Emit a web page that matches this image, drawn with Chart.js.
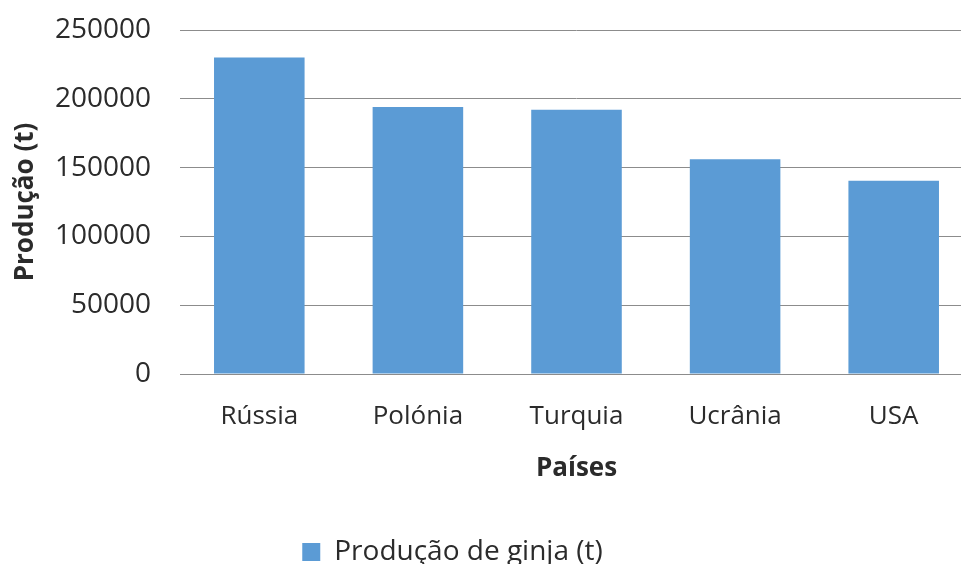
<!DOCTYPE html>
<html>
<head>
<meta charset="utf-8">
<script src="https://cdn.jsdelivr.net/npm/chart.js@4/dist/chart.umd.min.js"></script>
<style>
    html, body { margin: 0; padding: 0; background: #fff; overflow: hidden; }
    #wrap { position: absolute; left: 0; top: 0; width: 975px; height: 580px; }
</style>
</head>
<body>
<div id="wrap"><canvas id="chart"></canvas></div>
<script>
// Cherry (ginja) production by country
const countries = ['Rússia', 'Polónia', 'Turquia', 'Ucrânia', 'USA'];
const production = [230000, 194000, 192000, 156000, 140500];
const yTicks = [0, 50000, 100000, 150000, 200000, 250000];

const TEXT = '#2b2b2b';
const GRID = '#8c8c8c';
const BAR = '#5b9bd5';
const FONT = "'Open Sans', sans-serif";

// move the legend sideways to where the original puts it
const legendShift = {
    id: 'legendShift',
    afterLayout(chart) {
        const lg = chart.legend;
        if (!lg) return;
        lg.left -= 34;
        lg.right -= 34;
    }
};

const ctx = document.getElementById('chart').getContext('2d');

new Chart(ctx, {
    type: 'bar',
    data: {
        labels: countries,
        datasets: [{
            label: 'Produção de ginja (t)',
            data: production,
            backgroundColor: BAR,
            borderWidth: 0,
            barPercentage: 0.571,
            categoryPercentage: 1
        }]
    },
    options: {
        responsive: true,
        maintainAspectRatio: false,
        animation: false,
        layout: {
            padding: { top: 30, right: 2, bottom: 4, left: 0 }
        },
        scales: {
            x: {
                grid: { display: false, drawTicks: false },
                border: { display: true, color: GRID, width: 1 },
                ticks: {
                    color: TEXT,
                    font: { family: FONT, size: 26 },
                    padding: 27,
                    maxRotation: 0
                },
                title: {
                    display: true,
                    text: 'Países',
                    color: TEXT,
                    font: { family: FONT, size: 26, weight: 'bold' },
                    padding: { top: 44, bottom: 44 }
                },
                afterFit(scale) {
                    scale.height = 154;
                }
            },
            y: {
                min: 0,
                max: 250000,
                grid: { color: GRID, lineWidth: 1, drawTicks: false },
                border: { display: false },
                afterBuildTicks(scale) {
                    scale.ticks = yTicks.map(v => ({ value: v }));
                },
                ticks: {
                    color: TEXT,
                    font: { family: FONT, size: 28 },
                    padding: 29,
                    callback: v => String(v)
                },
                title: {
                    display: true,
                    text: 'Produção (t)',
                    color: TEXT,
                    font: { family: FONT, size: 26, weight: 'bold' },
                    padding: { top: 10, bottom: 10 }
                },
                afterFit(scale) {
                    scale.width = 180;
                    scale.paddingTop = 0;
                    scale.paddingBottom = 0;
                }
            }
        },
        plugins: {
            legend: {
                position: 'bottom',
                labels: {
                    color: TEXT,
                    font: { family: FONT, size: 28 },
                    boxWidth: 18,
                    boxHeight: 18,
                    padding: 10
                }
            },
            tooltip: { enabled: false }
        }
    },
    plugins: [legendShift]
});
</script>
</body>
</html>
